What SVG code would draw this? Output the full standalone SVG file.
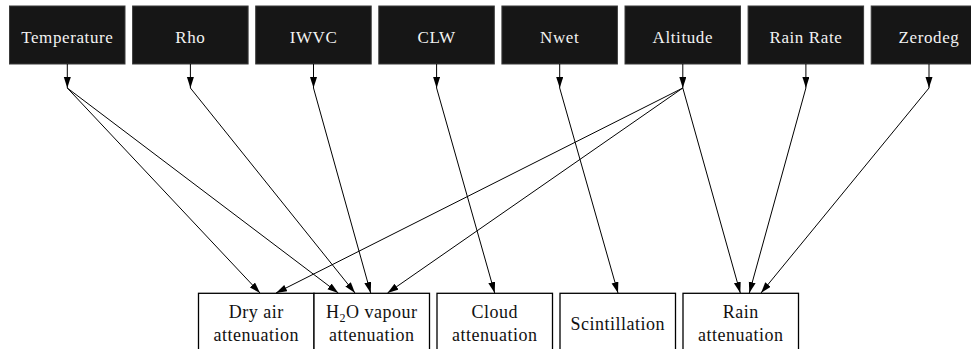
<svg xmlns="http://www.w3.org/2000/svg" width="971" height="349" viewBox="0 0 971 349">
<style>
.src rect{fill:#161616;stroke:#3a3a3a;stroke-width:1}
.src text{fill:#f2f2f2;font-family:"Liberation Serif","Times New Roman",serif;font-size:17px;letter-spacing:0.6px;text-anchor:middle}
.dst rect{fill:#fff;stroke:#000;stroke-width:1.3}
.dst text{fill:#111;font-family:"Liberation Serif","Times New Roman",serif;font-size:18px;letter-spacing:0.5px;text-anchor:middle}
.edges line{stroke:#000;stroke-width:1;marker-end:url(#ah)}
</style>
<defs>
<marker id="ah" markerUnits="userSpaceOnUse" markerWidth="12" markerHeight="8" refX="11" refY="3.5" orient="auto">
<path d="M0,0 L11,3.5 L0,7 z" fill="#000"/>
</marker>
</defs>
<rect width="971" height="349" fill="#fff"/>
<g id="n-temperature" class="src"><rect x="9.5" y="6" width="115.5" height="58"/><text x="67.3" y="43">Temperature</text></g>
<g id="n-rho" class="src"><rect x="132.6" y="6" width="115.5" height="58"/><text x="190.4" y="43">Rho</text></g>
<g id="n-iwvc" class="src"><rect x="255.7" y="6" width="115.5" height="58"/><text x="313.5" y="43">IWVC</text></g>
<g id="n-clw" class="src"><rect x="378.8" y="6" width="115.5" height="58"/><text x="436.6" y="43">CLW</text></g>
<g id="n-nwet" class="src"><rect x="501.9" y="6" width="115.5" height="58"/><text x="559.7" y="43">Nwet</text></g>
<g id="n-altitude" class="src"><rect x="625" y="6" width="115.5" height="58"/><text x="682.8" y="43">Altitude</text></g>
<g id="n-rainrate" class="src"><rect x="748.1" y="6" width="115.5" height="58"/><text x="805.9" y="43">Rain Rate</text></g>
<g id="n-zerodeg" class="src"><rect x="871.2" y="6" width="115.5" height="58"/><text x="929" y="43">Zerodeg</text></g>

<g id="n-dryair" class="dst"><rect x="198.5" y="293.3" width="115.5" height="60"/><text x="256.2" y="318">Dry air</text><text x="256.2" y="340.5">attenuation</text></g>
<g id="n-h2o" class="dst"><rect x="314" y="293.3" width="115.5" height="60"/><text x="371.7" y="318">H<tspan font-size="12" dy="4">2</tspan><tspan dy="-4">O vapour</tspan></text><text x="371.7" y="340.5">attenuation</text></g>
<g id="n-cloud" class="dst"><rect x="437" y="293.3" width="115.5" height="60"/><text x="494.7" y="318">Cloud</text><text x="494.7" y="340.5">attenuation</text></g>
<g id="n-scint" class="dst"><rect x="560" y="293.3" width="115.5" height="60"/><text x="617.7" y="330">Scintillation</text></g>
<g id="n-rain" class="dst"><rect x="683" y="293.3" width="115.5" height="60"/><text x="740.7" y="318">Rain</text><text x="740.7" y="340.5">attenuation</text></g>

<g id="edges" class="edges">
<line x1="67.3" y1="64" x2="67.3" y2="88"/>
<line x1="190.4" y1="64" x2="190.4" y2="88"/>
<line x1="313.5" y1="64" x2="313.5" y2="88"/>
<line x1="436.6" y1="64" x2="436.6" y2="88"/>
<line x1="559.7" y1="64" x2="559.7" y2="88"/>
<line x1="682.8" y1="64" x2="682.8" y2="88"/>
<line x1="805.9" y1="64" x2="805.9" y2="88"/>
<line x1="929" y1="64" x2="929" y2="88"/>

<line x1="67.3" y1="88" x2="260" y2="293"/>
<line x1="67.3" y1="88" x2="338.3" y2="293"/>
<line x1="190.4" y1="88" x2="355" y2="293"/>
<line x1="313.5" y1="88" x2="370.7" y2="293"/>
<line x1="436.6" y1="88" x2="494.7" y2="293"/>
<line x1="559.7" y1="88" x2="618" y2="293"/>
<line x1="682.8" y1="88" x2="276" y2="293"/>
<line x1="682.8" y1="88" x2="387.5" y2="293"/>
<line x1="682.8" y1="88" x2="740.3" y2="293"/>
<line x1="805.9" y1="88" x2="749.3" y2="293"/>
<line x1="929" y1="88" x2="761" y2="293"/>
</g>
</svg>
